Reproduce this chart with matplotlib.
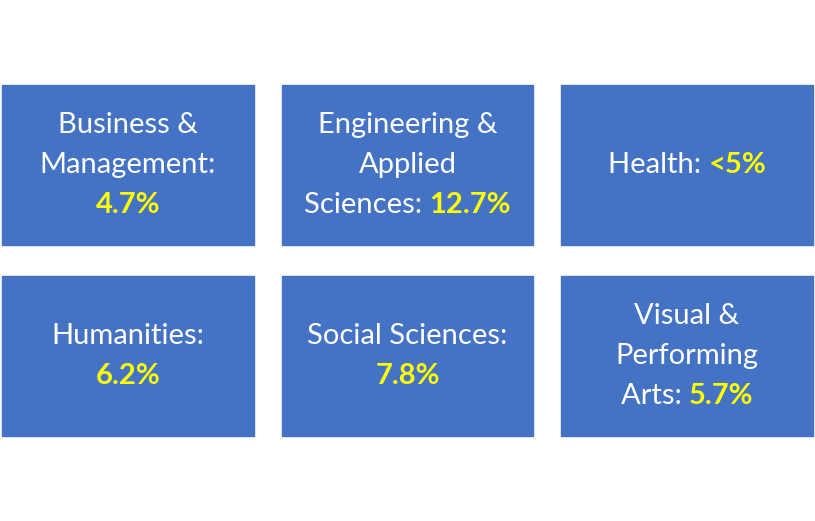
import matplotlib
matplotlib.use("Agg")
import matplotlib.pyplot as plt
from matplotlib.patches import Rectangle

# label lines: the last label line is followed by the value (on same line if flagged)
labels = [["Business &", "Management:"], ["Engineering &", "Applied", "Sciences:"], ["Health:"],
          ["Humanities:"], ["Social Sciences:"], ["Visual &", "Performing", "Arts:"]]
values = ["4.7%", "12.7%", "<5%", "6.2%", "7.8%", "5.7%"]
same_line = [False, True, True, False, False, True]

W, H = 815, 521
fig = plt.figure(figsize=(W/100, H/100), dpi=100)
ax = fig.add_axes([0, 0, 1, 1])
ax.set_xlim(0, W); ax.set_ylim(H, 0); ax.axis("off")
fig.canvas.draw()
r = fig.canvas.get_renderer()

xs = [(2, 254), (282, 533), (561, 813)]
ys = [(85, 245), (276, 436)]
FS = 21
FAM = "Lato"
lh = 40

def width(s, bold):
    t = ax.text(0, 0, s, fontsize=FS, family=FAM, fontweight="bold" if bold else "normal")
    w = t.get_window_extent(r).width
    t.remove()
    return w

for i in range(6):
    x0, x1 = xs[i % 3]; y0, y1 = ys[i // 3]
    ax.add_patch(Rectangle((x0, y0), x1-x0, y1-y0, color="#4472C4"))
    lines = [[(l, False)] for l in labels[i]]
    if same_line[i]:
        lines[-1] = [(labels[i][-1] + " ", False), (values[i], True)]
    else:
        lines.append([(values[i], True)])
    cx = (x0+x1)/2; cy = (y0+y1)/2
    n = len(lines)
    for k, parts in enumerate(lines):
        yy = cy + (k - (n-1)/2) * lh
        tot = sum(width(s, b) for s, b in parts)
        xx = cx - tot/2
        for s, b in parts:
            ax.text(xx, yy, s, fontsize=FS, family=FAM, fontweight="bold" if b else "normal",
                    color="#FFFF00" if b else "white", ha="left", va="center")
            xx += width(s, b)

fig.savefig("out.png", dpi=100)
